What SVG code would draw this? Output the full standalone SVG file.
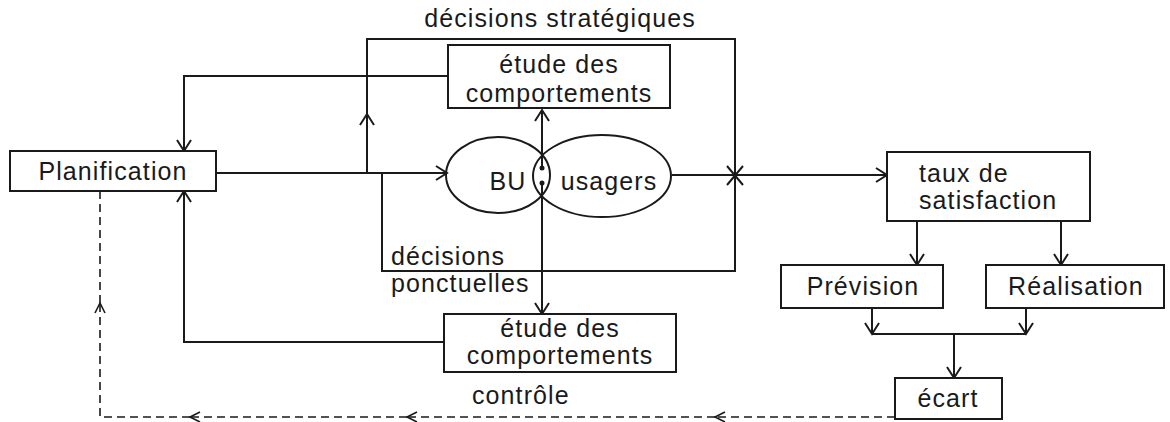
<svg xmlns="http://www.w3.org/2000/svg" width="1170" height="422" viewBox="0 0 1170 422">
<style>
.box{fill:#fff;stroke:#1a1a1a;stroke-width:2}
.ell{fill:none;stroke:#1a1a1a;stroke-width:2}
.ln{fill:none;stroke:#1a1a1a;stroke-width:2}
.dash{fill:none;stroke:#1a1a1a;stroke-width:1.6;stroke-dasharray:8 5}
text{font-family:"Liberation Sans",Arial,sans-serif;font-size:25px;letter-spacing:1.1px;fill:#1a1a1a}
.c{text-anchor:middle}
</style>
<defs>
<marker id="arr" viewBox="-13 -9 15 18" refX="0" refY="0" markerWidth="15" markerHeight="18" orient="auto" markerUnits="userSpaceOnUse">
<path d="M-11,-7 L0,0 L-11,7" fill="none" stroke="#1a1a1a" stroke-width="2" stroke-dasharray="none"/>
</marker>
<marker id="arrs" viewBox="-13 -9 15 18" refX="0" refY="0" markerWidth="15" markerHeight="18" orient="auto" markerUnits="userSpaceOnUse">
<path d="M-10,-5 L0,0 L-10,5" fill="none" stroke="#1a1a1a" stroke-width="1.6" stroke-dasharray="none"/>
</marker>
</defs>
<rect width="1170" height="422" fill="#fff"/>
<g id="connectors">
<path class="ln" d="M216,173 H447" marker-end="url(#arr)"/>
<path class="ln" d="M367,173 V114" marker-end="url(#arr)"/>
<path class="ln" d="M367,114 V39 H735 V271 H382 V173"/>
<path class="ln" d="M448,76 H184 V151" marker-end="url(#arr)"/>
<path class="ln" d="M444,342 H184 V191" marker-end="url(#arr)"/>
<path class="ln" d="M542,168 V110" marker-end="url(#arr)"/>
<path class="ln" d="M542,183 V314" marker-end="url(#arr)"/>
<path class="ln" d="M672,175 H887" marker-end="url(#arr)"/>
<path class="ln" d="M727,166 L743,185 M743,166 L727,185"/>
<path class="ln" d="M917,221 V265" marker-end="url(#arr)"/>
<path class="ln" d="M1061,221 V265" marker-end="url(#arr)"/>
<path class="ln" d="M872,308 V334" marker-end="url(#arr)"/>
<path class="ln" d="M1026,308 V334" marker-end="url(#arr)"/>
<path class="ln" d="M872,334 H1026"/>
<path class="ln" d="M954,334 V378" marker-end="url(#arr)"/>
<path class="dash" d="M895,417 H715" marker-end="url(#arrs)"/>
<path class="dash" d="M715,417 H407" marker-end="url(#arrs)"/>
<path class="dash" d="M407,417 H190" marker-end="url(#arrs)"/>
<path class="dash" d="M190,417 H100 V303" marker-end="url(#arrs)"/>
<path class="dash" d="M100,303 V191"/>
<circle cx="542" cy="168" r="2.5" fill="#1a1a1a"/>
<circle cx="542" cy="183" r="2.5" fill="#1a1a1a"/>
</g>
<g id="label-strategiques"><text x="560" y="27" class="c">décisions stratégiques</text></g>
<g id="label-ponctuelles"><text x="391" y="265">décisions</text><text x="391" y="292">ponctuelles</text></g>
<g id="label-controle"><text x="472" y="404">contrôle</text></g>
<g id="planification"><rect class="box" x="10" y="151" width="206" height="40"/><text x="113" y="180" class="c">Planification</text></g>
<g id="etude-haut"><rect class="box" x="448" y="45" width="222" height="63"/><text x="559" y="73" class="c">étude des</text><text x="559" y="102" class="c">comportements</text></g>
<g id="etude-bas"><rect class="box" x="444" y="314" width="232" height="58"/><text x="560" y="337" class="c">étude des</text><text x="560" y="364" class="c">comportements</text></g>
<g id="bu"><ellipse class="ell" cx="498" cy="175" rx="52" ry="38"/><text x="508" y="190" class="c">BU</text></g>
<g id="usagers"><ellipse class="ell" cx="602" cy="176" rx="69" ry="41"/><text x="609" y="190" class="c">usagers</text></g>
<g id="taux"><rect class="box" x="887" y="152" width="203" height="69"/><text x="919" y="182">taux de</text><text x="919" y="209">satisfaction</text></g>
<g id="prevision"><rect class="box" x="781" y="265" width="162" height="43"/><text x="863" y="295" class="c">Prévision</text></g>
<g id="realisation"><rect class="box" x="986" y="265" width="178" height="43"/><text x="1076" y="295" class="c">Réalisation</text></g>
<g id="ecart"><rect class="box" x="895" y="378" width="107" height="41"/><text x="948" y="407" class="c">écart</text></g>
</svg>
